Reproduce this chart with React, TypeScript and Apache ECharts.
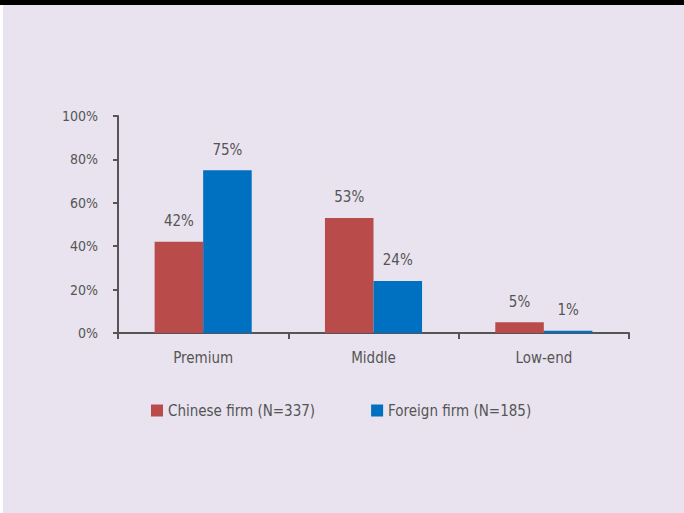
import React, { useEffect, useRef } from "react";
import * as echarts from "echarts";

const categories = ["Premium", "Middle", "Low-end"];
const chineseFirm = [42, 53, 5];
const foreignFirm = [75, 24, 1];
const seriesNames = ["Chinese firm (N=337)", "Foreign firm (N=185)"];
const yTicks = [0, 20, 40, 60, 80, 100];

const FONT = "'Liberation Sans Narrow', 'DejaVu Sans Condensed', 'Arial Narrow', sans-serif";
const TEXT = "#555555";

export default function App() {
  const ref = useRef<HTMLDivElement>(null);
  useEffect(() => {
    document.body.style.margin = "0";
    const chart = echarts.init(ref.current!, null, { renderer: "svg" });
    const label = {
      show: true,
      position: "top",
      distance: 13,
      formatter: "{c}%",
      color: TEXT,
      fontFamily: FONT,
      fontSize: 15,
    };
    chart.setOption({
      animation: false,
      backgroundColor: "#E8E3EE",
      textStyle: { fontFamily: FONT },
      graphic: [
        { type: "rect", left: 0, top: 0, shape: { width: 684, height: 5 }, style: { fill: "#000" }, z: 10 },
        { type: "rect", left: 0, top: 5, shape: { width: 3, height: 508 }, style: { fill: "#fff" }, z: 10 },
      ],
      grid: { left: 118, right: 55, top: 116, bottom: 180, containLabel: false },
      legend: {
        left: 151,
        top: 403,
        padding: 0,
        itemWidth: 12,
        itemHeight: 12,
        itemGap: 56,
        icon: "rect",
        textStyle: { color: TEXT, fontFamily: FONT, fontSize: 15 },
        data: seriesNames,
      },
      xAxis: {
        type: "category",
        data: categories,
        axisLine: { lineStyle: { color: TEXT, width: 2 } },
        axisTick: { show: true, length: 6, lineStyle: { color: TEXT, width: 2 } },
        axisLabel: { color: TEXT, fontFamily: FONT, fontSize: 15, margin: 17 },
      },
      yAxis: {
        type: "value",
        min: yTicks[0],
        max: yTicks[yTicks.length - 1],
        interval: 20,
        splitLine: { show: false },
        axisLine: { show: true, lineStyle: { color: TEXT, width: 2 } },
        axisTick: { show: true, length: 5, lineStyle: { color: TEXT, width: 2 } },
        axisLabel: { color: TEXT, fontFamily: FONT, fontSize: 14, margin: 20, formatter: "{value}%" },
      },
      series: [
        {
          name: seriesNames[0],
          type: "bar",
          data: chineseFirm,
          itemStyle: { color: "#B94C4A" },
          barGap: "0%",
          barCategoryGap: "43%",
          label,
        },
        {
          name: seriesNames[1],
          type: "bar",
          data: foreignFirm,
          itemStyle: { color: "#0070C0" },
          barGap: "0%",
          barCategoryGap: "43%",
          label,
        },
      ],
    });
    return () => chart.dispose();
  }, []);
  return <div ref={ref} style={{ width: 684, height: 513 }} />;
}
